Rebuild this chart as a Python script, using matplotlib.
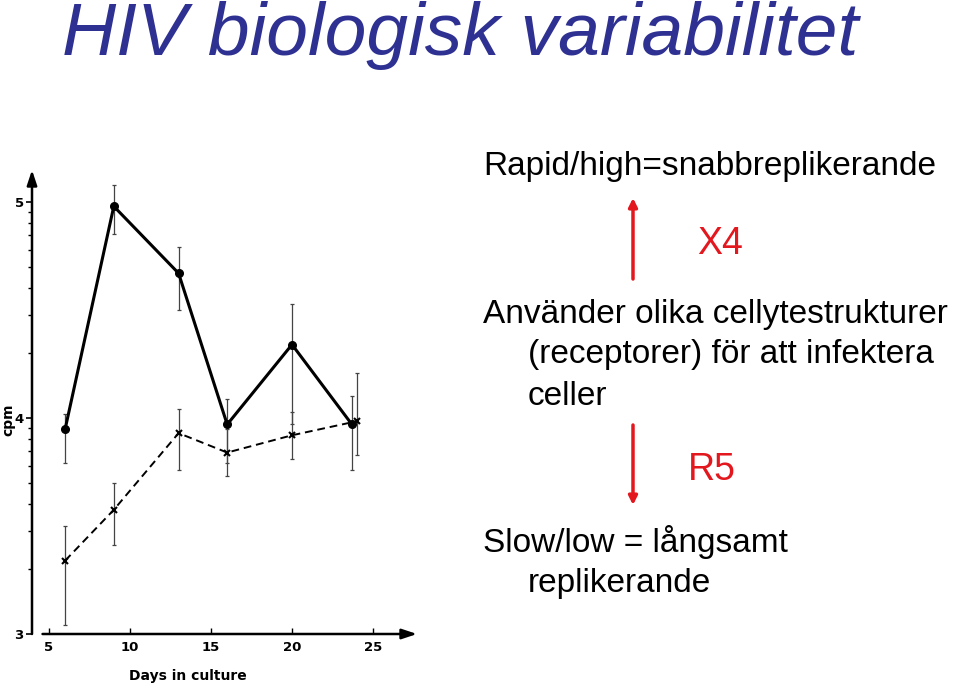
import numpy as np
import matplotlib
matplotlib.use("Agg")
import matplotlib.pyplot as plt

# ---- data (log10 cpm) ----
days_rapid = [6, 9, 13, 16, 20, 23.7]
cpm_rapid = [3.95, 4.98, 4.67, 3.97, 4.34, 3.97]
rapid_lo = [3.79, 4.85, 4.50, 3.79, 3.97, 3.76]
rapid_hi = [4.02, 5.08, 4.79, 4.09, 4.53, 4.10]

days_slow = [6, 9, 13, 16, 20, 24]
cpm_slow = [3.34, 3.575, 3.93, 3.84, 3.92, 3.985]
slow_lo = [3.04, 3.41, 3.76, 3.73, 3.81, 3.83]
slow_hi = [3.50, 3.70, 4.04, 3.95, 4.03, 4.21]

x_ticks = [5, 10, 15, 20, 25]
y_ticks = [3, 4, 5]

title = "HIV biologisk variabilitet"

W, H = 960, 688
fig = plt.figure(figsize=(W / 100, H / 100), dpi=100)

def fx(px):
    return px / W

def fy(py):
    return 1 - py / H

# axes
ax_left, ax_right = 32, 417
ax_bottom, ax_top = 634, 170
ax = fig.add_axes([fx(ax_left), fy(ax_bottom), fx(ax_right - ax_left), (ax_bottom - ax_top) / H])
px_per_day = 16.2
xmin = 5 - (49 - ax_left) / px_per_day
xmax = xmin + (ax_right - ax_left) / px_per_day
px_per_unit = 216
ymin = 3
ymax = 3 + (ax_bottom - ax_top) / px_per_unit
ax.set_xlim(xmin, xmax)
ax.set_ylim(ymin, ymax)

for s in ax.spines.values():
    s.set_visible(False)

# axis arrows
ax.annotate('', xy=(xmin, ymax), xytext=(xmin, ymin),
            arrowprops=dict(arrowstyle='-|>,head_length=0.9,head_width=0.3', lw=1.8, color='black', shrinkA=0, shrinkB=0),
            annotation_clip=False)
ax.annotate('', xy=(xmax, ymin), xytext=(xmin + 0.65, ymin),
            arrowprops=dict(arrowstyle='-|>,head_length=0.9,head_width=0.3', lw=1.8, color='black', shrinkA=0, shrinkB=0),
            annotation_clip=False)

# error bars
def errs(vals, lo, hi):
    return [np.array(vals) - np.array(lo), np.array(hi) - np.array(vals)]

ax.errorbar(days_rapid, cpm_rapid, yerr=errs(cpm_rapid, rapid_lo, rapid_hi), fmt='none',
            ecolor='#444444', elinewidth=0.9, capsize=1.5, capthick=0.9, zorder=2)
ax.errorbar(days_slow, cpm_slow, yerr=errs(cpm_slow, slow_lo, slow_hi), fmt='none',
            ecolor='#444444', elinewidth=0.9, capsize=1.5, capthick=0.9, zorder=2)

ax.plot(days_rapid, cpm_rapid, '-', color='black', lw=2.2, marker='o', ms=5.5, zorder=3)
ax.plot(days_slow, cpm_slow, '--', color='black', lw=1.4, dashes=(4, 2.5), marker='x', ms=5,
        mew=1.5, zorder=3)

# ticks
ax.set_xticks(x_ticks)
ax.set_xticklabels([str(t) for t in x_ticks], fontsize=9.5, fontweight='bold', family='DejaVu Sans')
ax.tick_params(axis='x', direction='in', length=4, width=1, pad=5)
ax.set_yticks(y_ticks)
ax.set_yticklabels([str(t) for t in y_ticks], fontsize=9.5, fontweight='bold', family='DejaVu Sans')
ax.tick_params(axis='y', direction='out', length=4, width=1.2, pad=2)
minor = [d + np.log10(k) for d in (3, 4) for k in range(2, 10)]
ax.set_yticks(minor, minor=True)
ax.tick_params(axis='y', which='minor', direction='out', length=3, width=1)

fig.text(fx(8), fy(420), 'cpm', rotation=90, fontsize=10, fontweight='bold',
         family='DejaVu Sans', ha='center', va='center')
fig.text(fx(188), fy(676), 'Days in culture', fontsize=10, fontweight='bold',
         family='DejaVu Sans', ha='center', va='center')

# title
fig.text(fx(62), fy(55), title, fontsize=54, style='italic', color='#2E3192',
         family='Liberation Sans', ha='left', va='baseline')

# right-hand text
tkw = dict(fontsize=24, family='Liberation Sans', color='black', ha='left', va='baseline')
fig.text(fx(483), fy(175), 'Rapid/high=snabbreplikerande', **tkw)
fig.text(fx(483), fy(323), 'Använder olika cellytestrukturer', **tkw)
fig.text(fx(528), fy(363), '(receptorer) för att infektera', **tkw)
fig.text(fx(528), fy(405), 'celler', **tkw)
fig.text(fx(483), fy(552), 'Slow/low = långsamt', **tkw)
fig.text(fx(528), fy(592), 'replikerande', **tkw)

red = '#E3171E'
fig.text(fx(697), fy(254), 'X4', fontsize=27, family='Liberation Sans', color=red, ha='left', va='baseline')
fig.text(fx(688), fy(480), 'R5', fontsize=27, family='Liberation Sans', color=red, ha='left', va='baseline')

fig.patches.append(matplotlib.patches.FancyArrowPatch(
    (fx(633), fy(279)), (fx(633), fy(198)), transform=fig.transFigure,
    arrowstyle='-|>,head_length=5,head_width=2.5', lw=2.5, color=red, shrinkA=0, shrinkB=0))
fig.patches.append(matplotlib.patches.FancyArrowPatch(
    (fx(633), fy(425)), (fx(633), fy(505)), transform=fig.transFigure,
    arrowstyle='-|>,head_length=5,head_width=2.5', lw=2.5, color=red, shrinkA=0, shrinkB=0))

fig.savefig('out.png', dpi=100)
